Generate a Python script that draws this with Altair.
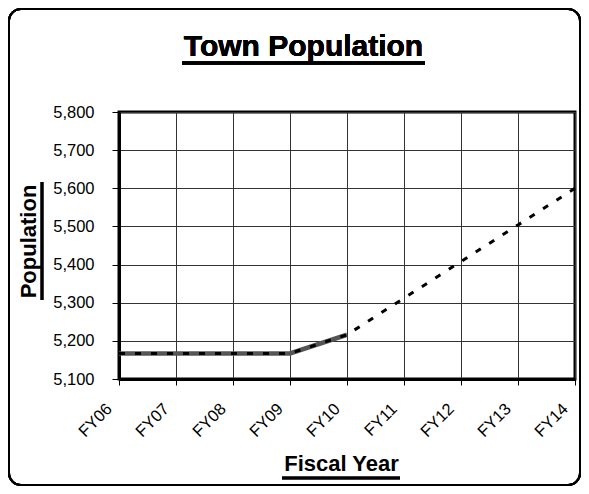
import altair as alt
import pandas as pd

years = ["FY06", "FY07", "FY08", "FY09", "FY10", "FY11", "FY12", "FY13", "FY14"]
actual_years = ["FY06", "FY07", "FY08", "FY09", "FY10"]
actual_pop = [5167, 5167, 5167, 5167, 5216]
projected_pop = [5167, 5167, 5167, 5167, 5216, 5312, 5408, 5504, 5600]
y_ticks = [5100, 5200, 5300, 5400, 5500, 5600, 5700, 5800]

df_actual = pd.DataFrame({"Fiscal Year": actual_years, "Population": actual_pop})
df_proj = pd.DataFrame({"Fiscal Year": years, "Population": projected_pop})

FONT = "Liberation Sans"
W, H = 456, 267

x_enc = alt.X(
    "Fiscal Year:N",
    sort=years,
    scale=alt.Scale(type="point", padding=0, domain=years),
    axis=alt.Axis(
        title="Fiscal Year",
        titleFont=FONT, titleFontSize=22, titleFontWeight="bold", titleColor="black",
        titleX=222, titleY=91, titleBaseline="alphabetic", titleAlign="center",
        labelAngle=-45, labelAlign="right", labelBaseline="middle",
        labelFont=FONT, labelFontSize=16.5, labelColor="black",
        labelPadding=21, labelOffset=-10,
        tickSize=6, tickColor="black", tickWidth=1,
        domainColor="black", domainWidth=3,
        grid=True, gridColor="#333333", gridWidth=1,
    ),
)
y_enc = alt.Y(
    "Population:Q",
    scale=alt.Scale(domain=[5100, 5800], nice=False, zero=False),
    axis=alt.Axis(
        title="Population", values=y_ticks, format=",d",
        titleFont=FONT, titleFontSize=22, titleFontWeight="bold", titleColor="black",
        titleAngle=-90, titleX=-84, titleY=129, titleBaseline="alphabetic", titleAlign="center",
        labelFont=FONT, labelFontSize=16.5, labelColor="black", labelPadding=18,
        tickSize=7, tickColor="black", tickWidth=1,
        domainColor="black", domainWidth=3,
        grid=True, gridColor="#333333", gridWidth=1,
    ),
)

border = alt.Chart(df_actual).mark_rect(
    filled=False, stroke="black", strokeWidth=2, cornerRadius=12
).encode(
    x=alt.value(-110), x2=alt.value(461), y=alt.value(-103), y2=alt.value(373)
)

actual = alt.Chart(df_actual).mark_line(color="#555555", strokeWidth=4.5).encode(
    x=x_enc, y=y_enc
)
projected = alt.Chart(df_proj).mark_line(
    color="black", strokeWidth=3, strokeDash=[6, 10]
).encode(x=x_enc, y=y_enc)

title_text = alt.Chart(df_actual).mark_text(
    text="Town Population", font=FONT, fontSize=30, fontWeight="bold",
    color="black", align="center", baseline="alphabetic"
).encode(x=alt.value(184.5), y=alt.value(-56))

title_ul = alt.Chart(df_actual).mark_rule(color="black", strokeWidth=3).encode(
    x=alt.value(63), x2=alt.value(306), y=alt.value(-49)
)
xt_ul = alt.Chart(df_actual).mark_rule(color="black", strokeWidth=2.5).encode(
    x=alt.value(163), x2=alt.value(281), y=alt.value(366)
)
yt_ul = alt.Chart(df_actual).mark_rule(color="black", strokeWidth=2.5).encode(
    x=alt.value(-77), y=alt.value(70), y2=alt.value(188)
)

chart = alt.layer(
    border, actual, projected, title_text, title_ul, xt_ul, yt_ul
).properties(
    width=W, height=H,
    autosize=alt.AutoSizeParams(type="none"),
    padding={"left": 111, "top": 104, "right": 6, "bottom": 107},
    background="white",
).configure_view(
    stroke="black", strokeWidth=3
)

chart.save("out.html", embed_options={"renderer": "svg", "actions": False})
